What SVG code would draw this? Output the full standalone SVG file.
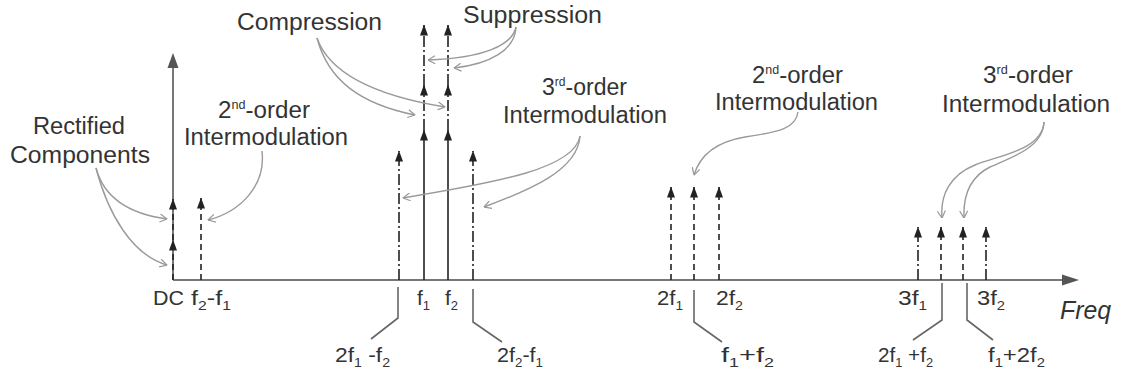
<svg xmlns="http://www.w3.org/2000/svg" width="1122" height="377" viewBox="0 0 1122 377">
<defs>
<style>
.lbl{font-family:"Liberation Sans",Arial,sans-serif;font-size:23px;fill:#333}
.ax{font-family:"Liberation Sans",Arial,sans-serif;font-size:21px;fill:#333}
.frq{font-family:"Liberation Sans",Arial,sans-serif;font-size:25px;font-style:italic;fill:#333}
.sup{font-size:12px}
.sub{font-size:13px}
.spec{stroke:#222;stroke-width:1.6;fill:none;marker-end:url(#ah)}
.dash{stroke-dasharray:6,4}
.dd{stroke-dasharray:11,3,2,3}
.ann{stroke:#9a9a9a;stroke-width:1.4;fill:none;marker-end:url(#ch)}
.lead{stroke:#666;stroke-width:1.6;fill:none}
</style>
<marker id="ah" viewBox="0 0 11 8" refX="10.5" refY="4" markerWidth="11" markerHeight="8" markerUnits="userSpaceOnUse" orient="auto">
<path d="M0,0 L11,4 L0,8 Z" fill="#222"/>
</marker>
<marker id="ch" viewBox="0 0 9 10" refX="8.5" refY="5" markerWidth="8" markerHeight="9" markerUnits="userSpaceOnUse" orient="auto">
<path d="M0.5,0.5 L8.5,5 L0.5,9.5" fill="none" stroke="#9a9a9a" stroke-width="1.4"/>
</marker>
</defs>
<rect width="1122" height="377" fill="#fff"/>

<g id="axes">
<line x1="173" y1="280" x2="1066" y2="280" stroke="#777" stroke-width="2"/>
<polygon points="1079,280 1062,274.5 1062,285.5" fill="#555"/>
<line x1="173" y1="280" x2="173" y2="64" stroke="#777" stroke-width="2"/>
<polygon points="173,53 167.5,68 178.5,68" fill="#555"/>
</g>

<g id="connectors">
<line class="spec dash" x1="173" y1="280" x2="173" y2="240"/>
<line class="spec dash" x1="173" y1="240" x2="173" y2="199"/>
<line class="spec dash" x1="201" y1="280" x2="201" y2="198"/>
<line class="spec dd" x1="399" y1="280" x2="399" y2="151"/>
<line class="spec" x1="424" y1="280" x2="424" y2="130"/>
<line class="spec dd" x1="424" y1="130" x2="424" y2="85"/>
<line class="spec dd" x1="424" y1="85" x2="424" y2="25"/>
<line class="spec" x1="448" y1="280" x2="448" y2="130"/>
<line class="spec dd" x1="448" y1="130" x2="448" y2="85"/>
<line class="spec dd" x1="448" y1="85" x2="448" y2="25"/>
<line class="spec dd" x1="473" y1="280" x2="473" y2="151"/>
<line class="spec dash" x1="671" y1="280" x2="671" y2="187"/>
<line class="spec dash" x1="694" y1="280" x2="694" y2="187"/>
<line class="spec dash" x1="719" y1="280" x2="719" y2="187"/>
<line class="spec dd" x1="918" y1="280" x2="918" y2="227"/>
<line class="spec dash" x1="941" y1="280" x2="941" y2="227"/>
<line class="spec dash" x1="963" y1="280" x2="963" y2="227"/>
<line class="spec dd" x1="986" y1="280" x2="986" y2="227"/>

<path class="ann" d="M96,168 C104,198 130,214 167,219"/>
<path class="ann" d="M96,168 C108,214 132,255 167,265"/>
<path class="ann" d="M262,151 C266,186 240,212 208,220"/>
<path class="ann" d="M317,38 C328,80 360,104 415,115"/>
<path class="ann" d="M317,38 C330,75 378,96 445,107"/>
<path class="ann" d="M516,27 C512,46 482,58 428,60"/>
<path class="ann" d="M516,27 C515,50 490,64 454,68"/>
<path class="ann" d="M580,136 C575,168 500,182 403,198"/>
<path class="ann" d="M580,136 C578,170 530,190 484,207"/>
<path class="ann" d="M798,112 C796,128 780,132 745,137 C715,142 700,155 694,175"/>
<path class="ann" d="M1044,122 C1042,150 1000,155 975,165 C950,175 940,195 942,218"/>
<path class="ann" d="M1044,122 C1043,148 1010,158 990,167 C970,177 963,195 964,218"/>

<path class="lead" d="M398,287 L398,318 L371,339"/>
<path class="lead" d="M473,289 L473,322 L502,342" stroke="#aaa"/>
<path class="lead" d="M694,290 L694,322 L722,342"/>
<path class="lead" d="M942,283 L942,320 L913,340"/>
<path class="lead" d="M967,283 L967,320 L993,340"/>
</g>

<g id="label-rectified">
<text class="lbl" x="33" y="134" textLength="92" lengthAdjust="spacingAndGlyphs">Rectified</text>
<text class="lbl" x="10" y="163" textLength="140" lengthAdjust="spacingAndGlyphs">Components</text>
</g>
<g id="label-2nd-left">
<text class="lbl" x="218" y="118" textLength="92" lengthAdjust="spacingAndGlyphs">2<tspan class="sup" dy="-9">nd</tspan><tspan dy="9">-order</tspan></text>
<text class="lbl" x="184" y="145" textLength="164" lengthAdjust="spacingAndGlyphs">Intermodulation</text>
</g>
<g id="label-compression">
<text class="lbl" x="237" y="30" textLength="145" lengthAdjust="spacingAndGlyphs">Compression</text>
</g>
<g id="label-suppression">
<text class="lbl" x="463" y="23" textLength="139" lengthAdjust="spacingAndGlyphs">Suppression</text>
</g>
<g id="label-3rd-mid">
<text class="lbl" x="542" y="95" textLength="85" lengthAdjust="spacingAndGlyphs">3<tspan class="sup" dy="-9">rd</tspan><tspan dy="9">-order</tspan></text>
<text class="lbl" x="503" y="123" textLength="164" lengthAdjust="spacingAndGlyphs">Intermodulation</text>
</g>
<g id="label-2nd-right">
<text class="lbl" x="752" y="83" textLength="91" lengthAdjust="spacingAndGlyphs">2<tspan class="sup" dy="-9">nd</tspan><tspan dy="9">-order</tspan></text>
<text class="lbl" x="715" y="110" textLength="163" lengthAdjust="spacingAndGlyphs">Intermodulation</text>
</g>
<g id="label-3rd-right">
<text class="lbl" x="983" y="83" textLength="90" lengthAdjust="spacingAndGlyphs">3<tspan class="sup" dy="-9">rd</tspan><tspan dy="9">-order</tspan></text>
<text class="lbl" x="942" y="112" textLength="168" lengthAdjust="spacingAndGlyphs">Intermodulation</text>
</g>

<g id="axis-labels">
<text class="ax" x="153" y="305" textLength="31" lengthAdjust="spacingAndGlyphs">DC</text>
<text class="ax" x="191" y="305" textLength="40" lengthAdjust="spacingAndGlyphs">f<tspan class="sub" dy="5">2</tspan><tspan dy="-5">-f</tspan><tspan class="sub" dy="5">1</tspan></text>
<text class="ax" x="417" y="305">f<tspan class="sub" dy="5">1</tspan></text>
<text class="ax" x="445" y="305">f<tspan class="sub" dy="5">2</tspan></text>
<text class="ax" x="657" y="305" textLength="26" lengthAdjust="spacingAndGlyphs">2f<tspan class="sub" dy="5">1</tspan></text>
<text class="ax" x="716" y="305" textLength="27" lengthAdjust="spacingAndGlyphs">2f<tspan class="sub" dy="5">2</tspan></text>
<text class="ax" x="898" y="305" textLength="29" lengthAdjust="spacingAndGlyphs">3f<tspan class="sub" dy="5">1</tspan></text>
<text class="ax" x="977" y="305" textLength="28" lengthAdjust="spacingAndGlyphs">3f<tspan class="sub" dy="5">2</tspan></text>
<text class="frq" x="1060" y="319" textLength="51" lengthAdjust="spacingAndGlyphs">Freq</text>
<text class="ax" x="335" y="362" textLength="55" lengthAdjust="spacingAndGlyphs">2f<tspan class="sub" dy="5">1</tspan><tspan dy="-5"> -f</tspan><tspan class="sub" dy="5">2</tspan></text>
<text class="ax" x="497" y="362" textLength="46" lengthAdjust="spacingAndGlyphs">2f<tspan class="sub" dy="5">2</tspan><tspan dy="-5">-f</tspan><tspan class="sub" dy="5">1</tspan></text>
<text class="ax" x="721" y="362" textLength="53" lengthAdjust="spacingAndGlyphs">f<tspan class="sub" dy="5">1</tspan><tspan dy="-5">+f</tspan><tspan class="sub" dy="5">2</tspan></text>
<text class="ax" x="878" y="362" textLength="55" lengthAdjust="spacingAndGlyphs">2f<tspan class="sub" dy="5">1</tspan><tspan dy="-5"> +f</tspan><tspan class="sub" dy="5">2</tspan></text>
<text class="ax" x="988" y="362" textLength="57" lengthAdjust="spacingAndGlyphs">f<tspan class="sub" dy="5">1</tspan><tspan dy="-5">+2f</tspan><tspan class="sub" dy="5">2</tspan></text>
</g>
</svg>
